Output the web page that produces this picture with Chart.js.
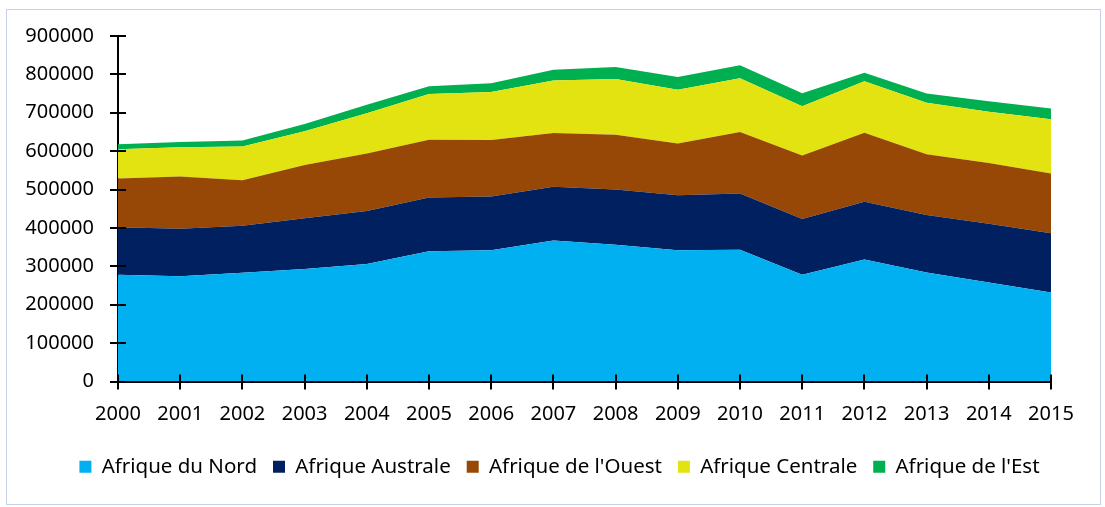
<!DOCTYPE html>
<html>
<head>
<meta charset="utf-8">
<script src="https://cdn.jsdelivr.net/npm/chart.js@4"></script>
<style>
  html, body { margin: 0; padding: 0; background: #fff; }
  #wrap { position: relative; width: 1105px; height: 507px; }
  #frame { position: absolute; left: 6px; top: 9px; width: 1095px; height: 496px; border: 1px solid #c6d2ea; box-sizing: border-box; }
  canvas { position: absolute; left: 0; top: 0; }
</style>
</head>
<body>
<div id="wrap">
  <div id="frame"></div>
  <canvas id="myChart" width="1105" height="507"></canvas>
</div>
<script>
var years = ['2000', '2001', '2002', '2003', '2004', '2005', '2006', '2007', '2008', '2009', '2010', '2011', '2012', '2013', '2014', '2015'];

var nord     = [278000, 274000, 283000, 293000, 306000, 339000, 342000, 367000, 356000, 342000, 343000, 278000, 318000, 284000, 258000, 232000];
var australe = [124000, 124000, 123000, 132000, 138000, 140000, 140000, 140000, 144000, 143000, 147000, 145000, 150000, 150000, 153000, 154000];
var ouest    = [127000, 136000, 118000, 139000, 150000, 151000, 147000, 140000, 143000, 135000, 160000, 166000, 180000, 158000, 158000, 156000];
var centrale = [76000, 76000, 88000, 88000, 105000, 119000, 125000, 137000, 145000, 140000, 140000, 128000, 134000, 134000, 134000, 141000];
var est      = [13000, 14000, 16000, 19000, 22000, 20000, 23000, 28000, 31000, 33000, 34000, 34000, 22000, 24000, 27000, 28000];

var yTicks = [0, 100000, 200000, 300000, 400000, 500000, 600000, 700000, 800000, 900000];

function area(label, data, color, fill) {
  return {
    label: label,
    data: data,
    backgroundColor: color,
    borderColor: color,
    borderWidth: 0,
    pointRadius: 0,
    tension: 0,
    fill: fill
  };
}

// tick marks that cross the axis line, like the original
var crossTicks = {
  id: 'crossTicks',
  afterDatasetsDraw: function (chart) {
    var ctx = chart.ctx;
    var xs = chart.scales.x, ys = chart.scales.y;
    ctx.save();
    ctx.strokeStyle = '#000';
    ctx.lineWidth = 2;
    ctx.beginPath();
    ys.ticks.forEach(function (t, i) {
      var py = Math.round(ys.getPixelForTick(i));
      ctx.moveTo(xs.left - 8, py);
      ctx.lineTo(xs.left + 8, py);
    });
    xs.ticks.forEach(function (t, i) {
      var px = Math.round(xs.getPixelForTick(i));
      ctx.moveTo(px, ys.bottom - 7);
      ctx.lineTo(px, ys.bottom + 8);
    });
    ctx.stroke();
    ctx.restore();
  }
};

// the legend sits centred on the whole frame, a bit right of the plot centre
var shiftLegend = {
  id: 'shiftLegend',
  afterLayout: function (chart) {
    if (chart.legend) {
      chart.legend.left += 34;
      chart.legend.right += 34;
    }
  }
};

Chart.defaults.font.family = '"Noto Sans", "Open Sans", sans-serif';
Chart.defaults.font.size = 20;
Chart.defaults.color = '#000';

var ctx = document.getElementById('myChart').getContext('2d');
var chart = new Chart(ctx, {
  type: 'line',
  data: {
    labels: years,
    datasets: [
      area('Afrique du Nord', nord, '#00b0f0', 'origin'),
      area('Afrique Australe', australe, '#002060', '-1'),
      area("Afrique de l'Ouest", ouest, '#974806', '-1'),
      area('Afrique Centrale', centrale, '#e2e310', '-1'),
      area("Afrique de l'Est", est, '#00b050', '-1')
    ]
  },
  options: {
    responsive: false,
    animation: false,
    layout: { padding: { left: 0, right: 54, top: 27, bottom: 20 } },
    plugins: {
      legend: {
        position: 'bottom',
        labels: { boxWidth: 12, boxHeight: 12, padding: 16, font: { size: 20.5 } }
      },
      tooltip: { enabled: false }
    },
    scales: {
      x: {
        offset: false,
        grid: { display: false, drawTicks: false },
        border: { display: true, color: '#000', width: 2 },
        ticks: { padding: 21, maxRotation: 0, autoSkip: false },
        afterFit: function (s) { s.height = 59; }
      },
      y: {
        stacked: true,
        min: 0,
        max: 900000,
        afterBuildTicks: function (s) { s.ticks = yTicks.map(function (v) { return { value: v }; }); },
        grid: { display: false, drawTicks: false },
        border: { display: true, color: '#000', width: 2 },
        ticks: { padding: 24, callback: function (v) { return String(v); } },
        afterFit: function (s) { s.width = 118; }
      }
    }
  },
  plugins: [crossTicks, shiftLegend]
});
</script>
</body>
</html>
